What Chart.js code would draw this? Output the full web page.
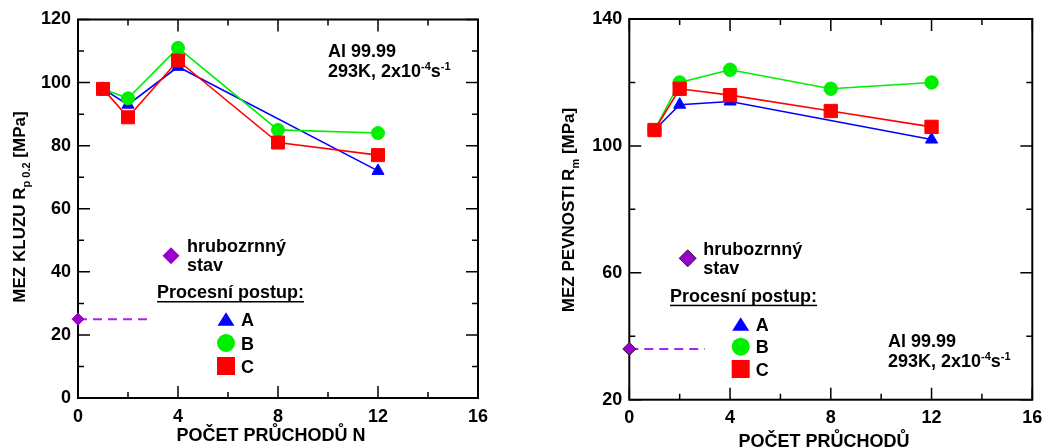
<!DOCTYPE html>
<html>
<head>
<meta charset="utf-8">
<script src="https://cdn.jsdelivr.net/npm/chart.js@4.4.1/dist/chart.umd.min.js"></script>
<style>
    body { margin: 0; width: 1042px; height: 448px; overflow: hidden; background: #fff; position: relative; }
    canvas { position: absolute; top: 0; }
</style>
</head>
<body>
<canvas id="yieldChart" width="520" height="448" style="left:0"></canvas>
<canvas id="strengthChart" width="540" height="448" style="left:520px"></canvas>
<script>
const FONT = "'Liberation Sans', Arial, sans-serif";

// number of passes
const passesA = [1, 2, 4, 12];
const passesBC = [1, 2, 4, 8, 12];
const coarseLineX = [0, 3];

// yield strength Rp0.2 [MPa]
const yieldA = [98, 93, 105, 72];
const yieldB = [98, 95, 111, 85, 84];
const yieldC = [98, 89, 107, 81, 77];
const yieldCoarse = 25;

// ultimate strength Rm [MPa]
const strengthA = [105, 113, 114, 102];
const strengthB = [105, 120, 124, 118, 120];
const strengthC = [105, 118, 116, 111, 106];
const strengthCoarse = 36;

// labelled ticks
const xTicks = [0, 4, 8, 12, 16];
const yieldTicks = [0, 20, 40, 60, 80, 100, 120];
const strengthTicks = [20, 60, 100, 140];

const BLUE = "#0000ff";
const GREEN = "#00ee00";
const RED = "#ff0000";
const PURPLE = "#9900cc";

function toPoints(xs, ys) {
    return xs.map((x, i) => ({x: x, y: ys[i]}));
}

function series(data, color, style, radius, order) {
    return {
        data: data,
        borderColor: color,
        backgroundColor: color,
        pointBackgroundColor: color,
        pointBorderColor: color,
        pointStyle: style,
        pointRadius: radius,
        pointBorderWidth: 1,
        borderWidth: 1.6,
        tension: 0,
        clip: false,
        order: order
    };
}

// legend icons (fixed layout, not data)
function marker(ctx, style, x, y, r, fill, stroke) {
    ctx.save();
    ctx.fillStyle = fill;
    ctx.beginPath();
    if (style === "triangle") {
        const h = r * 1.6;
        ctx.moveTo(x, y - h / 2);
        ctx.lineTo(x + r, y + h / 2);
        ctx.lineTo(x - r, y + h / 2);
    } else if (style === "circle") {
        ctx.arc(x, y, r, 0, Math.PI * 2);
    } else if (style === "rect") {
        ctx.rect(x - r, y - r, 2 * r, 2 * r);
    } else {
        ctx.moveTo(x, y - r);
        ctx.lineTo(x + r, y);
        ctx.lineTo(x, y + r);
        ctx.lineTo(x - r, y);
    }
    ctx.closePath();
    ctx.fill();
    if (stroke) {
        ctx.strokeStyle = stroke;
        ctx.lineWidth = 1;
        ctx.stroke();
    }
    ctx.restore();
}

// text with sub/superscripts: parts = [[text, size, dy]]
function richText(ctx, parts, x, y) {
    parts.forEach(p => {
        ctx.font = "bold " + p[1] + "px " + FONT;
        ctx.fillText(p[0], x, y + (p[2] || 0));
        x += ctx.measureText(p[0]).width;
    });
}

function richWidth(ctx, parts) {
    let w = 0;
    parts.forEach(p => {
        ctx.font = "bold " + p[1] + "px " + FONT;
        w += ctx.measureText(p[0]).width;
    });
    return w;
}

const framePlugin = {
    id: "frame",
    beforeDatasetsDraw(chart) {
        const ctx = chart.ctx;
        const a = chart.chartArea;
        const x = chart.scales.x;
        const y = chart.scales.y;
        ctx.save();
        ctx.strokeStyle = "#000";
        ctx.lineWidth = 2;
        ctx.strokeRect(a.left, a.top, a.right - a.left, a.bottom - a.top);
        ctx.lineWidth = 1.5;
        ctx.beginPath();
        x.ticks.forEach(t => {
            const px = x.getPixelForValue(t.value);
            const len = t.label ? 12 : 6;
            ctx.moveTo(px, a.bottom); ctx.lineTo(px, a.bottom - len);
            ctx.moveTo(px, a.top); ctx.lineTo(px, a.top + len);
        });
        y.ticks.forEach(t => {
            const py = y.getPixelForValue(t.value);
            const len = t.label ? 12 : 6;
            ctx.moveTo(a.left, py); ctx.lineTo(a.left + len, py);
            ctx.moveTo(a.right, py); ctx.lineTo(a.right - len, py);
        });
        ctx.stroke();
        ctx.restore();
    }
};

const textPlugin = {
    id: "texts",
    afterDraw(chart) {
        const o = chart.options.plugins.texts;
        const ctx = chart.ctx;
        ctx.save();
        ctx.fillStyle = "#000";
        ctx.textBaseline = "alphabetic";
        ctx.textAlign = "left";

        // y title, rotated
        ctx.save();
        ctx.translate(o.yTitle.x, o.yTitle.y);
        ctx.rotate(-Math.PI / 2);
        const w = richWidth(ctx, o.yTitle.parts);
        richText(ctx, o.yTitle.parts, -w / 2, 6);
        ctx.restore();

        // x title
        ctx.font = "bold 18px " + FONT;
        ctx.textAlign = "center";
        ctx.fillText(o.xTitle.text, o.xTitle.x, o.xTitle.y);
        ctx.textAlign = "left";

        // material note
        ctx.font = "bold 18px " + FONT;
        ctx.fillText("Al 99.99", o.note.x, o.note.y);
        richText(ctx, [["293K, 2x10", 18], ["-4", 11, -7], ["s", 18], ["-1", 11, -7]], o.note.x, o.note.y + 19.5);

        // legend
        const L = o.legend;
        marker(ctx, "diamond", L.dx, L.dy, L.dr, PURPLE, L.dStroke);
        ctx.font = "bold 18px " + FONT;
        ctx.fillText("hrubozrnný", L.tx, L.ty);
        ctx.fillText("stav", L.tx, L.ty + 19);
        const head = "Procesní postup:";
        ctx.fillText(head, L.hx, L.hy);
        const hw = ctx.measureText(head).width;
        ctx.fillRect(L.hx, L.hy + 3, hw, 1.5);
        marker(ctx, "triangle", L.mx, L.my[0], 8.5, BLUE);
        marker(ctx, "circle", L.mx, L.my[1], 9, GREEN);
        marker(ctx, "rect", L.mx, L.my[2], 9, RED);
        ["A", "B", "C"].forEach((s, i) => ctx.fillText(s, L.mx + 15, L.my[i] + 6.5));
        ctx.restore();
    }
};

function makeChart(id, sets, yMin, yMax, yStep, yLabels, lay, texts) {
    const tickFont = {family: FONT, size: 18, weight: "bold"};
    return new Chart(document.getElementById(id), {
        type: "line",
        data: {datasets: sets},
        options: {
            responsive: false,
            animation: false,
            events: [],
            layout: {padding: {top: lay.top, right: lay.right, left: 0, bottom: 0}},
            plugins: {
                legend: {display: false},
                tooltip: {enabled: false},
                texts: texts
            },
            scales: {
                x: {
                    type: "linear",
                    min: 0,
                    max: 16,
                    afterFit: s => { s.height = lay.xH; },
                    grid: {display: false, drawTicks: false},
                    border: {display: false},
                    ticks: {
                        stepSize: 2,
                        autoSkip: false,
                        maxRotation: 0,
                        padding: 8,
                        color: "#000",
                        font: tickFont,
                        callback: v => xTicks.includes(v) ? String(v) : ""
                    }
                },
                y: {
                    min: yMin,
                    max: yMax,
                    afterFit: s => { s.width = lay.yW; },
                    grid: {display: false, drawTicks: false},
                    border: {display: false},
                    ticks: {
                        stepSize: yStep,
                        autoSkip: false,
                        padding: 7,
                        color: "#000",
                        font: tickFont,
                        callback: v => yLabels.includes(v) ? String(v) : ""
                    }
                }
            }
        },
        plugins: [framePlugin, textPlugin]
    });
}

function coarseSets(value, radius, stroke) {
    return [
        {
            data: toPoints(coarseLineX, coarseLineX.map(() => value)),
            borderColor: "#aa22ee",
            borderWidth: 2,
            borderDash: [9, 6],
            pointRadius: 0,
            clip: false,
            order: 5
        },
        {
            data: toPoints([0], [value]),
            showLine: false,
            pointStyle: "rectRot",
            pointRadius: radius,
            pointBackgroundColor: PURPLE,
            pointBorderColor: stroke,
            pointBorderWidth: 1,
            clip: false,
            order: 0
        }
    ];
}

makeChart("yieldChart", [
    series(toPoints(passesA, yieldA), BLUE, "triangle", 7, 3),
    series(toPoints(passesBC, yieldB), GREEN, "circle", 6.5, 2),
    series(toPoints(passesBC, yieldC), RED, "rect", 9.2, 1),
    ...coarseSets(yieldCoarse, 6, PURPLE)
], 0, 120, 10, yieldTicks,
    {top: 19.5, right: 42, xH: 50, yW: 78},
    {
        yTitle: {x: 19, y: 207, parts: [["MEZ KLUZU R", 17], ["p 0.2", 11, 5], [" [MPa]", 17]]},
        xTitle: {x: 271, y: 441, text: "POČET PRŮCHODŮ N"},
        note: {x: 328, y: 57},
        legend: {dx: 171, dy: 255.7, dr: 8.5, dStroke: null, tx: 187, ty: 252,
                 hx: 157, hy: 298, mx: 226, my: [319, 343, 366]}
    });

makeChart("strengthChart", [
    series(toPoints(passesA, strengthA), BLUE, "triangle", 7, 3),
    series(toPoints(passesBC, strengthB), GREEN, "circle", 6.7, 2),
    series(toPoints(passesBC, strengthC), RED, "rect", 9.4, 1),
    ...coarseSets(strengthCoarse, 6.5, "#222")
], 20, 140, 20, strengthTicks,
    {top: 19, right: 27.7, xH: 48.3, yW: 109.3},
    {
        yTitle: {x: 48, y: 210, parts: [["MEZ PEVNOSTI R", 17], ["m", 11, 5], [" [MPa]", 17]]},
        xTitle: {x: 304, y: 447, text: "POČET PRŮCHODŮ"},
        note: {x: 368, y: 347},
        legend: {dx: 167.7, dy: 258.3, dr: 8.5, dStroke: "#222", tx: 183.3, ty: 255,
                 hx: 150, hy: 301.7, mx: 220.7, my: [324, 346.7, 369]}
    });
</script>
</body>
</html>
